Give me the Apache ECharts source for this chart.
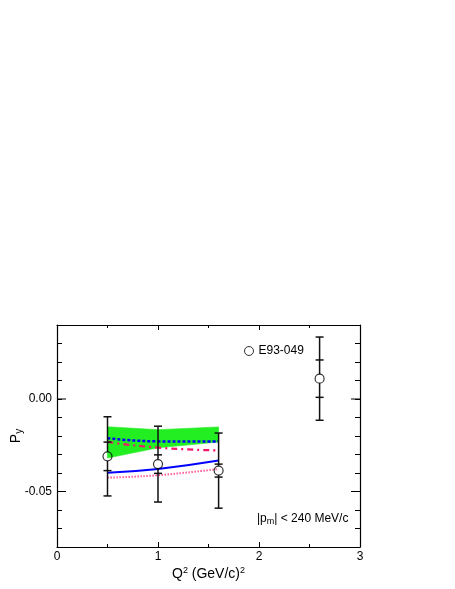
<!DOCTYPE html>
<html>
<head>
<meta charset="utf-8">
<script src="https://cdn.jsdelivr.net/npm/echarts@6/dist/echarts.min.js"></script>
<style>html,body{margin:0;padding:0;background:#fff;}#c{width:455px;height:589px;}</style>
</head>
<body>
<div id="c"></div>
<script>
// ---- data ----
var dataX = [0.5, 1.0, 1.6, 2.6];
var dataPy = [-0.0310, -0.0352, -0.0387, 0.0110];
var dataStat = [0.0077, 0.0050, 0.0035, 0.0101];
var dataTot = [0.0214, 0.0205, 0.0203, 0.0225];

var curveX = [0.5, 1.0, 1.6];
var blueSolid = [-0.0398, -0.0378, -0.0333];
var pinkDotted = [-0.0425, -0.0412, -0.0378];
var blueDashed = [-0.0212, -0.0229, -0.0230];
var redDashDot = [-0.0232, -0.0263, -0.0278];
var bandLow = [-0.0319, -0.0264, -0.0232];
var bandHigh = [-0.0150, -0.0166, -0.0151];

var yLabelValues = [-0.05, 0];

function pairs(xs, ys) { return xs.map(function (x, i) { return [x, ys[i]]; }); }

var FONT = 'Liberation Sans';
var chart = echarts.init(document.getElementById('c'), null, {renderer: 'canvas'});

var errData = dataX.map(function (x, i) { return [x, dataPy[i], dataStat[i], dataTot[i]]; });
var bandData = curveX.map(function (x, i) { return [x, bandLow[i], bandHigh[i]]; });
var majorTickData = yLabelValues.map(function (v) { return [0, v]; });

var axisCommon = {
  type: 'value',
  axisLine: {show: true, onZero: false, lineStyle: {color: '#000', width: 1.2}},
  splitLine: {show: false}
};

var option = {
  animation: false,
  backgroundColor: '#fff',
  grid: {left: 57, right: 95, top: 325, bottom: 42, containLabel: false, outerBoundsMode: 'none'},
  legend: {
    data: ['E93-049'],
    left: 239, top: 340,
    itemWidth: 9, itemHeight: 9, itemGap: 3,
    icon: 'circle',
    itemStyle: {color: 'rgba(0,0,0,0)', borderColor: '#000', borderWidth: 1},
    textStyle: {fontFamily: FONT, fontSize: 12, color: '#000'}
  },
  xAxis: [
    Object.assign({}, axisCommon, {
      position: 'bottom', min: 0, max: 3, interval: 1,
      name: '{n|Q}{s|2}{n| (GeV/c)}{s|2}', nameLocation: 'middle', nameGap: 19, nameMoveOverlap: false,
      nameTextStyle: {rich: {
        n: {fontFamily: FONT, fontSize: 14, color: '#000'},
        s: {fontFamily: FONT, fontSize: 9, color: '#000', verticalAlign: 'top', padding: [0, 0, 8, 0]}
      }},
      axisTick: {show: true, inside: true, length: 5, lineStyle: {color: '#000', width: 1}},
      minorTick: {show: true, splitNumber: 2, length: 3, lineStyle: {color: '#000', width: 1}},
      axisLabel: {fontFamily: FONT, fontSize: 12, color: '#000', margin: 4,
        formatter: function (v) { return String(Math.round(v)); }}
    }),
    Object.assign({}, axisCommon, {
      position: 'top', min: 0, max: 3, interval: 1,
      axisTick: {show: true, inside: true, length: 5, lineStyle: {color: '#000', width: 1}},
      minorTick: {show: true, splitNumber: 2, length: 3, lineStyle: {color: '#000', width: 1}},
      axisLabel: {show: false}
    })
  ],
  yAxis: [
    Object.assign({}, axisCommon, {
      position: 'left', min: -0.08, max: 0.04, interval: 0.01,
      name: '{n|P}{s|y}', nameLocation: 'middle', nameGap: 33, nameRotate: 90, nameMoveOverlap: false,
      nameTextStyle: {rich: {
        n: {fontFamily: FONT, fontSize: 14, color: '#000'},
        s: {fontFamily: FONT, fontSize: 10, color: '#000', verticalAlign: 'bottom', padding: [6, 0, 0, 0]}
      }},
      axisTick: {show: true, inside: true, length: 5, lineStyle: {color: '#000', width: 1}},
      axisLabel: {fontFamily: FONT, fontSize: 12, color: '#000', margin: 5,
        formatter: function (v) {
          for (var i = 0; i < yLabelValues.length; i++) {
            if (Math.abs(v - yLabelValues[i]) < 1e-9) return yLabelValues[i].toFixed(2);
          }
          return '';
        }}
    }),
    Object.assign({}, axisCommon, {
      position: 'right', min: -0.08, max: 0.04, interval: 0.01,
      axisTick: {show: true, inside: true, length: 5, lineStyle: {color: '#000', width: 1}},
      axisLabel: {show: false}
    })
  ],
  graphic: [{
    type: 'text', left: 257, top: 513,
    style: {
      text: '|p{s|m}| < 240 MeV/c',
      rich: {s: {fontFamily: FONT, fontSize: 9, verticalAlign: 'bottom', padding: [5, 0, 0, 0]}},
      fontFamily: FONT, fontSize: 12, fill: '#000'
    }
  }],
  series: [
    {
      name: 'majorTicks', type: 'custom', data: majorTickData, encode: {x: 0, y: 1}, z: 5, silent: true,
      renderItem: function (params, api) {
        var cs = params.coordSys;
        var p = api.coord([0, api.value(1)]);
        var st_ = {stroke: '#000', lineWidth: 1};
        return {type: 'group', children: [
          {type: 'line', shape: {x1: cs.x, y1: p[1], x2: cs.x + 9, y2: p[1]}, style: st_},
          {type: 'line', shape: {x1: cs.x + cs.width - 9, y1: p[1], x2: cs.x + cs.width, y2: p[1]}, style: st_}
        ]};
      }
    },
    {
      name: 'band', type: 'custom', data: bandData, encode: {x: 0, y: [1, 2]}, z: 1, silent: true,
      renderItem: function (params, api) {
        var i = params.dataIndex;
        if (i >= curveX.length - 1) return null;
        var p1 = api.coord([curveX[i], bandLow[i]]);
        var p2 = api.coord([curveX[i + 1], bandLow[i + 1]]);
        var p3 = api.coord([curveX[i + 1], bandHigh[i + 1]]);
        var p4 = api.coord([curveX[i], bandHigh[i]]);
        return {type: 'polygon', shape: {points: [p1, p2, p3, p4]},
          style: {fill: '#22ee22', stroke: '#22ee22', lineWidth: 0.6}};
      }
    },
    {
      name: 'blueDashed', type: 'line', data: pairs(curveX, blueDashed), symbol: 'none', smooth: true,
      lineStyle: {color: '#0000ff', width: 2.5, type: [3, 2]}, z: 2
    },
    {
      name: 'redDashDot', type: 'line', data: pairs(curveX, redDashDot), symbol: 'none', smooth: true,
      lineStyle: {color: '#f0186a', width: 2.2, type: [6, 4, 2, 4]}, z: 2
    },
    {
      name: 'blueSolid', type: 'line', data: pairs(curveX, blueSolid), symbol: 'none', smooth: true,
      lineStyle: {color: '#0000ff', width: 2}, z: 2
    },
    {
      name: 'pinkDotted', type: 'line', data: pairs(curveX, pinkDotted), symbol: 'none', smooth: true,
      lineStyle: {color: '#ff5c9a', width: 2, type: [1.5, 1.5]}, z: 2
    },
    {
      name: 'errors', type: 'custom', data: errData, encode: {x: 0, y: 1}, z: 3,
      renderItem: function (params, api) {
        var x = api.value(0), y = api.value(1), s = api.value(2), t = api.value(3);
        var c = api.coord([x, y]);
        var top = api.coord([x, y + t]), bot = api.coord([x, y - t]);
        var st = api.coord([x, y + s]), sb = api.coord([x, y - s]);
        var r = 4.5, hw = 4;
        var st_ = {stroke: '#111', lineWidth: 1.5};
        var seg = function (x1, y1, x2, y2) { return {type: 'line', shape: {x1: x1, y1: y1, x2: x2, y2: y2}, style: st_}; };
        return {type: 'group', children: [
          seg(c[0], top[1], c[0], c[1] - r),
          seg(c[0], c[1] + r, c[0], bot[1]),
          seg(c[0] - hw, top[1], c[0] + hw, top[1]),
          seg(c[0] - hw, bot[1], c[0] + hw, bot[1]),
          seg(c[0] - hw, st[1], c[0] + hw, st[1]),
          seg(c[0] - hw, sb[1], c[0] + hw, sb[1])
        ]};
      }
    },
    {
      name: 'E93-049', type: 'scatter', data: pairs(dataX, dataPy), symbol: 'circle', symbolSize: 9,
      itemStyle: {color: 'rgba(0,0,0,0)', borderColor: '#000', borderWidth: 1.2}, z: 4
    }
  ]
};
chart.setOption(option);
</script>
</body>
</html>
